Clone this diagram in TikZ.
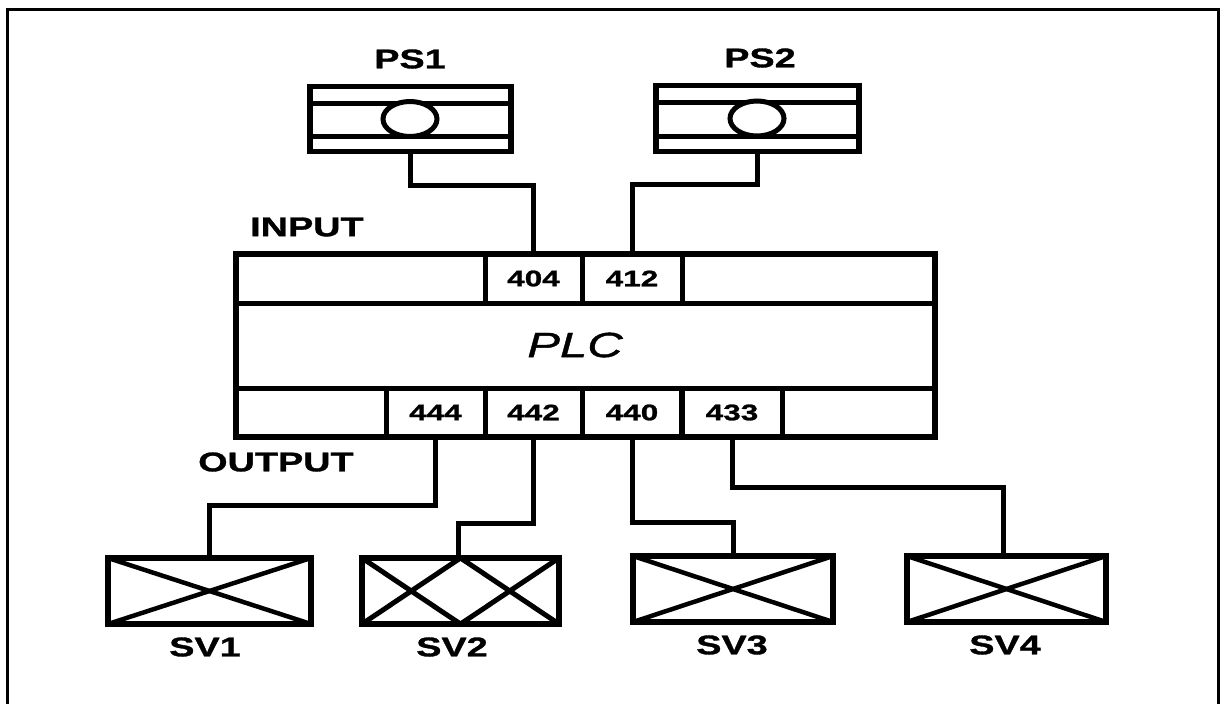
\documentclass[tikz,border=0pt]{standalone}
\usepackage{fontspec}
\setmainfont{Liberation Sans}
\newfontfamily\heavyfont[FakeStretch=1.4,FakeBold=1.2]{Liberation Sans Bold}
\newfontfamily\slantfont[FakeStretch=1.4,FakeBold=1.2]{Liberation Sans Italic}
\usetikzlibrary{shapes.geometric}
\tikzset{
  cell/.style={draw,line width=5pt,inner sep=0pt,outer sep=0pt,minimum height=#1,font=\heavyfont\fontsize{22.5}{22.5}\selectfont},
  wire/.style={line width=5pt,line cap=butt,line join=miter},
  cross/.style={line width=4.5pt},
  lbl/.style={inner sep=0pt,font=\heavyfont\fontsize{27}{27}\selectfont},
  bigbox/.style={draw,line width=5.5pt,inner sep=0pt,outer sep=0pt},
  bulb/.style={ellipse,draw,fill=white,line width=5pt,inner sep=0pt,minimum width=54pt,minimum height=35pt},
  frameline/.style={line width=3pt}
}
\begin{document}
\begin{tikzpicture}[x=1pt,y=-1pt]
\useasboundingbox (0,0) rectangle (1226,704);
\fill[white] (0,0) rectangle (1226,704);
\draw[frameline] (7,704) -- (7,9.5) -- (1218,9.5) -- (1218,704);

% PS units
\node[bigbox,minimum width=201pt,minimum height=65pt] (ps1) at (410.5,119) {};
\draw[wire] (ps1.west |- 0,103.7) -- (ps1.east |- 0,103.7);
\draw[wire] (ps1.west |- 0,136.7) -- (ps1.east |- 0,136.7);
\node[bulb] (e1) at (410,119) {};
\node[bigbox,minimum width=203pt,minimum height=66pt] (ps2) at (757.5,118.5) {};
\draw[wire] (ps2.west |- 0,102.7) -- (ps2.east |- 0,102.7);
\draw[wire] (ps2.west |- 0,136) -- (ps2.east |- 0,136);
\node[bulb] (e2) at (757,118.5) {};
\node[lbl] (t1) at (410,59) {PS1};
\node[lbl] (t2) at (760,58) {PS2};

% PLC
\node[bigbox,minimum width=699pt,minimum height=183pt] (plc) at (585.5,345.5) {};
\node[inner sep=0pt,font=\slantfont\fontsize{35}{35}\selectfont] (plcl) at (575,345) {PLC};
\draw[wire] (plc.west |- 0,303) -- (plc.east |- 0,303);
\draw[wire] (plc.west |- 0,388) -- (plc.east |- 0,388);
\node[cell=49pt,minimum width=97pt] (p404) at (533.5,278.5) {404};
\node[cell=49pt,minimum width=100pt] (p412) at (632,278.5) {412};
\node[cell=49pt,minimum width=99pt] (p444) at (435.5,412.5) {444};
\node[cell=49pt,minimum width=97pt] (p442) at (533.5,412.5) {442};
\node[cell=49pt,minimum width=99pt] (p440) at (632,412.5) {440};
\node[cell=49pt,minimum width=100pt] (p433) at (732,412.5) {433};
\node[lbl,anchor=west] (inp) at (250,227) {INPUT};
\node[lbl,anchor=west] (outp) at (198,462) {OUTPUT};

% valves
\foreach \n/\cx/\cy/\w in {sv1/209.5/591/203,sv3/733/589/200,sv4/1006.5/589/199}{
  \node[bigbox,minimum width=\w pt,minimum height=66pt] (\n) at (\cx,\cy) {};
  \draw[cross] (\n.north west) -- (\n.south east);
  \draw[cross] (\n.south west) -- (\n.north east);
}
\node[bigbox,minimum width=197pt,minimum height=66pt] (sv2) at (460.5,591) {};
\draw[cross,line width=5pt] (sv2.north west) -- (sv2.south) -- (sv2.north east);
\draw[cross,line width=5pt] (sv2.south west) -- (sv2.north) -- (sv2.south east);
\node[lbl] (l1) at (205,647) {SV1};
\node[lbl] (l2) at (452,647) {SV2};
\node[lbl] (l3) at (732,645) {SV3};
\node[lbl] (l4) at (1005,645) {SV4};

% connectors
\draw[wire] (ps1.south) -- ++(0,33.5) -| (p404.north);
\draw[wire] (ps2.south) -- ++(0,33) -| (p412.north);
\draw[wire] (p444.south) -- ++(0,68) -| (sv1.north);
\draw[wire] (p442.south) -- ++(0,86) -| ([xshift=-2.5pt]sv2.north);
\draw[wire] (p440.south) -- ++(0,85) -| (sv3.north);
\draw[wire] (p433.south) -- ++(0,50) -| ([xshift=-3.5pt]sv4.north);
\end{tikzpicture}
\end{document}
